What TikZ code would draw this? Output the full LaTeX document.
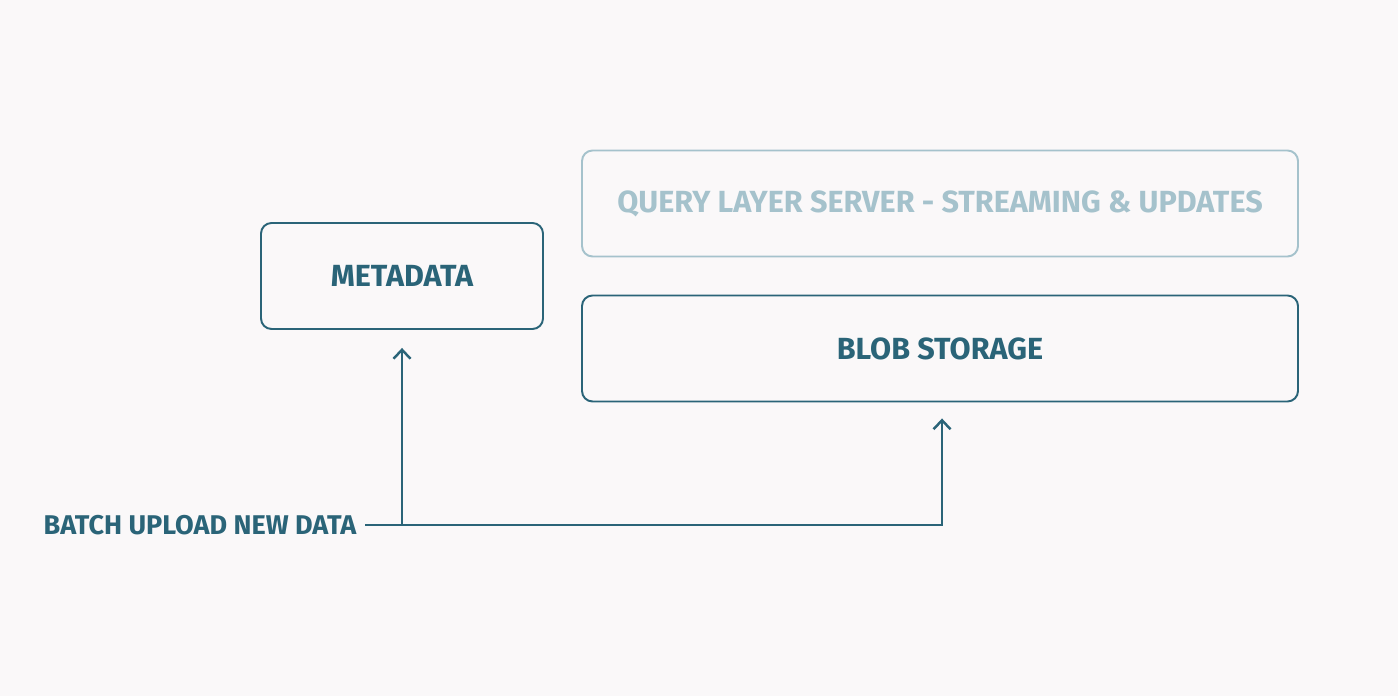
\documentclass[tikz,border=0pt]{standalone}
\usepackage{fontspec}
\setmainfont{Fira Sans}
\usepackage{xcolor}
\usepackage{tikz}
\usetikzlibrary{arrows.meta, positioning, calc}
\definecolor{bgcolor}{RGB}{250,248,249}
\definecolor{tealdark}{RGB}{42,100,120}
\definecolor{teallight}{RGB}{165,194,204}

\begin{document}
\begin{tikzpicture}[
    box/.style={draw=tealdark, line width=0.55pt, rounded corners=3pt, fill=bgcolor, minimum height=1.06cm, align=center, font=\fontsize{8.7}{10}\selectfont\bfseries, text=tealdark},
    fadedbox/.style={box, draw=teallight, text=teallight},
    arrow/.style={-{Straight Barb[length=0.9mm, width=1.7mm]}, line width=0.7pt, draw=tealdark}
]
    \fill[bgcolor] (0,0) rectangle (13.98,6.96);
    \useasboundingbox (0,0) rectangle (13.98,6.96);

    \node[box, minimum width=2.82cm] (meta) at (4.02,4.20) {METADATA};
    \node[fadedbox, minimum width=7.16cm] (query) at (9.40,4.925) {QUERY LAYER SERVER - STREAMING \& UPDATES};
    \node[box, minimum width=7.16cm] (blob) at (9.40,3.475) {BLOB STORAGE};

    \node[anchor=east, inner sep=0pt, font=\fontsize{7.7}{9}\selectfont\bfseries, text=tealdark] (batch) at (3.57,1.71) {BATCH UPLOAD NEW DATA};
    \coordinate (start) at ($(batch.east)+(0.08,0)$);
    \coordinate (split) at (meta.south |- start);

    \draw[arrow, shorten >=0.16cm] (start) -| ([xshift=0.02cm]blob.south);
    \draw[arrow, shorten >=0.18cm] (split) -- (meta.south);
\end{tikzpicture}
\end{document}
